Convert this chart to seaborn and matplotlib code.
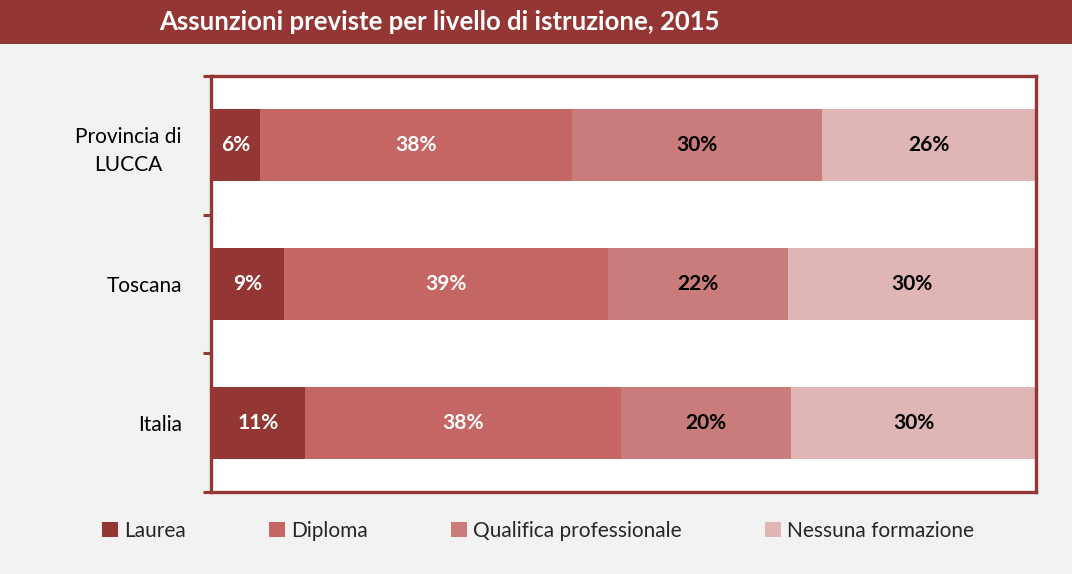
import numpy as np
import pandas as pd
import matplotlib
matplotlib.use('Agg')
import matplotlib.pyplot as plt
import seaborn as sns
from matplotlib.patches import Rectangle

# ── Data ──────────────────────────────────────────────────────────────────────
areas = ['Provincia di\nLUCCA', 'Toscana', 'Italia']
levels = ['Laurea', 'Diploma', 'Qualifica professionale', 'Nessuna formazione']
laurea = [5.9, 8.8, 11.4]
diploma = [37.9, 39.3, 38.3]
qualifica = [30.3, 21.8, 20.6]
nessuna = [25.9, 30.1, 29.7]
labels = [['6%', '38%', '30%', '26%'],
          ['9%', '39%', '22%', '30%'],
          ['11%', '38%', '20%', '30%']]

colors = ['#943634', '#C56664', '#C97C7A', '#DFB6B5']
text_colors = ['white', 'white', 'black', 'black']
dark_red = '#943634'
bg = '#F2F2F2'

# ── Setup ─────────────────────────────────────────────────────────────────────
sns.set_theme(style='white')
plt.rcParams['font.family'] = ['Lato', 'DejaVu Sans']

df = pd.DataFrame({'Area': areas, 'Laurea': laurea, 'Diploma': diploma,
                   'Qualifica professionale': qualifica, 'Nessuna formazione': nessuna})
cum = df[levels].cumsum(axis=1)

fig = plt.figure(figsize=(10.72, 5.74), dpi=100, facecolor=bg)
ax = fig.add_axes([211 / 1072, 1 - 492 / 574, 825 / 1072, 416 / 574])
ax.set_facecolor('white')

# stacked bars: draw cumulative totals from the widest down
for lvl, col in reversed(list(zip(levels, colors))):
    sns.barplot(x=cum[lvl], y=df['Area'], color=col, width=0.52, linewidth=0,
                saturation=1, orient='h', ax=ax, label=lvl)

for i in range(len(areas)):
    left = 0
    for j, lvl in enumerate(levels):
        v = df.loc[i, lvl]
        ax.text(left + v / 2, i, labels[i][j], ha='center', va='center',
                color=text_colors[j], fontsize=15, fontweight='bold')
        left += v

ax.set_xlim(0, 100)
ax.set_ylim(2.5, -0.5)
ax.set_xlabel('')
ax.set_ylabel('')
ax.set_xticks([])
ax.tick_params(axis='y', which='major', length=0, labelsize=15, pad=21, colors='black')
ax.set_yticks([-0.5, 0.5, 1.5, 2.5], minor=True)
ax.tick_params(axis='y', which='minor', length=6, width=2.2, color=dark_red, left=True)
for lab in ax.get_yticklabels():
    lab.set_ha('right')
    lab.set_multialignment('center')
    lab.set_linespacing(1.45)
for s in ax.spines.values():
    s.set_visible(True)
    s.set_color(dark_red)
    s.set_linewidth(2.4)

# ── Title bar ─────────────────────────────────────────────────────────────────
fig.patches.append(Rectangle((0, 1 - 44 / 574), 1, 44 / 574, transform=fig.transFigure,
                             facecolor=dark_red, edgecolor='none', zorder=0))
fig.text(439 / 1072, 1 - 22 / 574, 'Assunzioni previste per livello di istruzione, 2015',
         ha='center', va='center', color='white', fontsize=18.5, fontweight='bold')

# ── Legend ────────────────────────────────────────────────────────────────────
handles, lbls = ax.get_legend_handles_labels()
order = [lbls.index(l) for l in levels]
fig.legend([handles[k] for k in order], [lbls[k] for k in order],
           loc='center', bbox_to_anchor=(538 / 1072, 1 - 531 / 574), ncol=4,
           frameon=False, fontsize=15, handlelength=0.75, handleheight=0.75,
           handletextpad=0.3, columnspacing=4.0)
if ax.get_legend() is not None:
    ax.get_legend().remove()

fig.savefig('out.png', dpi=100, facecolor=bg)
